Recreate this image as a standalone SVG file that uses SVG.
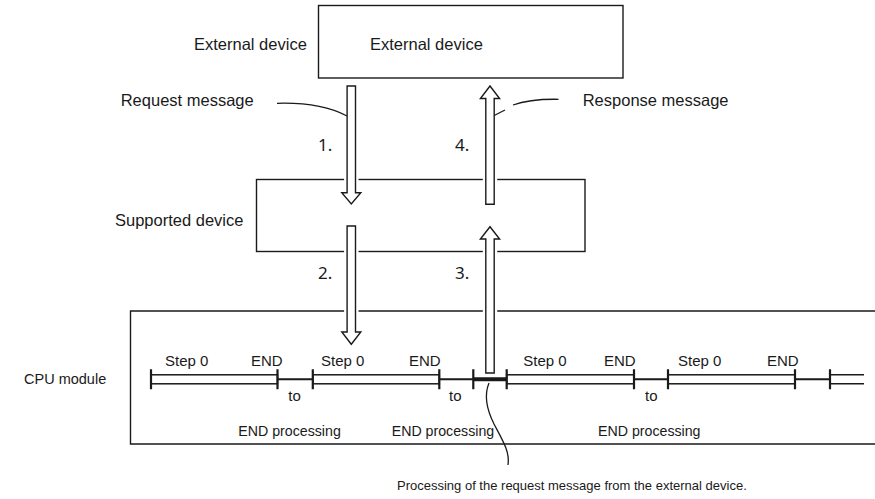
<svg xmlns="http://www.w3.org/2000/svg" width="875" height="499" viewBox="0 0 875 499">
<style>
  text { font-family: "Liberation Sans", Arial, sans-serif; fill: #1a1a1a; }
  .lbl { font-size: 16.5px; }
  .step { font-size: 15px; }
  .proc { font-size: 14.2px; }
  .num { font-family: "Noto Sans", "Liberation Sans", sans-serif; font-size: 17px; }
  .cap { font-size: 13px; }
  .box { fill: none; stroke: #1a1a1a; stroke-width: 1.4; }
  .halo { fill: #fff; stroke: #fff; stroke-width: 6; stroke-linejoin: miter; }
  .arrow { fill: #fff; stroke: #1a1a1a; stroke-width: 1.4; stroke-linejoin: miter; }
  .bar { fill: #fff; stroke: #1a1a1a; stroke-width: 1.5; }
  .tl { fill: none; stroke: #1a1a1a; stroke-width: 2; }
  .tick { stroke: #1a1a1a; stroke-width: 2.2; }
  .lead { fill: none; stroke: #1a1a1a; stroke-width: 1.3; }
</style>
<defs>
  <path id="down" d="M-4.2,0 L4.2,0 L4.2,-12 L9.5,-12 L0,0 Z"/>
</defs>
<rect width="875" height="499" fill="#fff"/>

<g id="external-device">
  <rect class="box" x="318.5" y="5.5" width="304.5" height="72.5" fill="#fff"/>
  <text class="lbl" x="370" y="50">External device</text>
</g>
<text class="lbl" x="194" y="50">External device</text>

<g id="supported-device">
  <rect class="box" x="256.5" y="179.5" width="328.5" height="72"/>
  <text class="lbl" x="115" y="226">Supported device</text>
</g>

<g id="cpu-module">
  <path class="box" d="M875,311 H130.5 V444 H875"/>
  <text class="lbl" x="24" y="384" style="font-size:14.5px">CPU module</text>
</g>

<g id="timeline">
  <rect class="bar" x="151" y="374.8" width="126.5" height="9"/>
  <rect class="bar" x="312.8" y="374.8" width="126.5" height="9"/>
  <rect class="bar" x="506.7" y="374.8" width="127.3" height="9"/>
  <rect class="bar" x="668" y="374.8" width="127" height="9"/>
  <path class="bar" d="M830,374.8 H864 M830,383.8 H864"/>
  <path class="tl" d="M277.5,379.3 H312.8 M439.3,379.3 H473.3 M634,379.3 H668 M795,379.3 H830"/>
  <path stroke="#1a1a1a" stroke-width="4" d="M473.3,379.3 H506.7"/>
  <path class="tick" d="M151,369.3 V389.3 M277.5,369.3 V389.3 M312.8,369.3 V389.3 M439.3,369.3 V389.3 M473.3,369.3 V389.3 M506.7,369.3 V389.3 M634,369.3 V389.3 M668,369.3 V389.3 M795,369.3 V389.3 M830,369.3 V389.3"/>
  <text class="step" x="165" y="366">Step 0</text>
  <text class="step" x="251" y="366">END</text>
  <text class="step" x="321" y="366">Step 0</text>
  <text class="step" x="409" y="366">END</text>
  <text class="step" x="523.3" y="366">Step 0</text>
  <text class="step" x="604" y="366">END</text>
  <text class="step" x="678" y="366">Step 0</text>
  <text class="step" x="767" y="366">END</text>
  <text class="step" x="288.3" y="400.5">to</text>
  <text class="step" x="449" y="400.5">to</text>
  <text class="step" x="645" y="400.5">to</text>
  <text class="proc" x="238.3" y="435.7">END processing</text>
  <text class="proc" x="391.7" y="435.7">END processing</text>
  <text class="proc" x="598" y="435.7">END processing</text>
</g>

<g id="connectors">
  <!-- 1. request down -->
  <path class="halo" d="M347.1,86 H355.5 V192.7 H360.8 L351.3,204 L341.8,192.7 H347.1 Z"/>
  <path class="arrow" d="M347.1,86 H355.5 V192.7 H360.8 L351.3,204 L341.8,192.7 H347.1 Z"/>
  <!-- 2. down to CPU -->
  <path class="halo" d="M347.1,226 H355.5 V332 H360.8 L351.3,344.3 L341.8,332 H347.1 Z"/>
  <path class="arrow" d="M347.1,226 H355.5 V332 H360.8 L351.3,344.3 L341.8,332 H347.1 Z"/>
  <!-- 3. up from CPU -->
  <path class="halo" d="M485.8,373 H494.2 V239 H499.6 L490,226.7 L480.4,239 H485.8 Z" stroke-width="4.5"/>
  <path class="arrow" d="M485.8,373 H494.2 V239 H499.6 L490,226.7 L480.4,239 H485.8 Z"/>
  <!-- 4. response up -->
  <path class="halo" d="M485.8,204.3 H494.2 V98.5 H499.6 L490,86 L480.4,98.5 H485.8 Z"/>
  <path class="arrow" d="M485.8,204.3 H494.2 V98.5 H499.6 L490,86 L480.4,98.5 H485.8 Z"/>
  <text class="num" x="318" y="151">1.</text>
  <text class="num" x="455" y="151">4.</text>
  <text class="num" x="318" y="278.5">2.</text>
  <text class="num" x="455" y="278.5">3.</text>
  <!-- leaders -->
  <path class="lead" d="M277,103.3 C305,102.5 328,106 347,116"/>
  <path class="lead" d="M558.5,99.3 C540,99 524,101 513,105"/>
  <path class="lead" d="M505,110 L494.2,115.5"/>
  <path class="lead" d="M489,383 C484,395 486,408 494,424 C503,441 510,452 508,465"/>
</g>
<text class="lbl" x="120.7" y="106">Request message</text>
<text class="lbl" x="582.7" y="106">Response message</text>
<text class="cap" x="397" y="490">Processing of the request message from the external device.</text>
</svg>
